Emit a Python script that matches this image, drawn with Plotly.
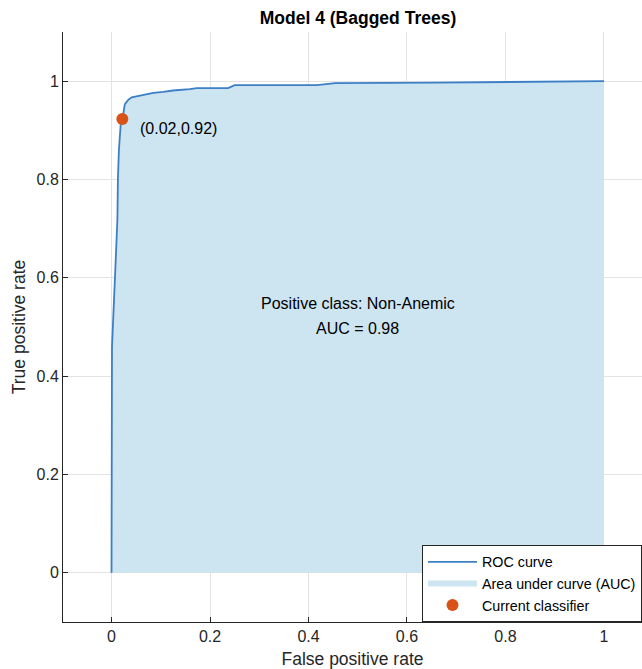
import plotly.graph_objects as go

# ROC curve data
fpr = [0, 0.0005, 0.001, 0.007, 0.009, 0.012, 0.013, 0.015, 0.019, 0.0225, 0.027,
       0.029, 0.034, 0.041, 0.054, 0.085, 0.105, 0.125, 0.159, 0.173, 0.237,
       0.250, 0.417, 0.454, 0.66, 1.0]
tpr = [0, 0.45, 0.46, 0.60, 0.66, 0.72, 0.80, 0.86, 0.917, 0.925, 0.953,
       0.956, 0.962, 0.967, 0.970, 0.976, 0.978, 0.981, 0.984, 0.986, 0.986,
       0.992, 0.992, 0.996, 0.997, 1.0]

current_fpr = [0.022]
current_tpr = [0.923]
current_label = "(0.02,0.92)"

title_text = "Model 4 (Bagged Trees)"
info_lines = ["Positive class: Non-Anemic", "AUC = 0.98"]
tick_vals = [0, 0.2, 0.4, 0.6, 0.8, 1]
tick_text = ["0", "0.2", "0.4", "0.6", "0.8", "1"]

FONT = "Liberation Sans, Arial, Helvetica, sans-serif"
TXT = "#262626"

W, H = 642, 669

fig = go.Figure()
fig.add_trace(go.Scatter(x=fpr, y=tpr, mode="none", fill="tozeroy",
                         fillcolor="#cde4f1", name="Area under curve (AUC)",
                         legendrank=2))
fig.add_trace(go.Scatter(x=fpr, y=tpr, mode="lines", name="ROC curve",
                         line=dict(color="#3d7fc6", width=1.8), legendrank=1))
fig.add_trace(go.Scatter(x=current_fpr, y=current_tpr, mode="markers",
                         name="Current classifier", legendrank=3,
                         marker=dict(color="#d95319", size=12)))

fig.add_annotation(x=0.053, y=0.903, text=current_label,
                   showarrow=False, xanchor="left", yanchor="middle",
                   font=dict(family=FONT, size=16, color="black"))
fig.add_annotation(x=0.5, y=0.547, text=info_lines[0],
                   showarrow=False, xanchor="center", yanchor="middle",
                   font=dict(family=FONT, size=16, color="black"))
fig.add_annotation(x=0.5, y=0.497, text=info_lines[1],
                   showarrow=False, xanchor="center", yanchor="middle",
                   font=dict(family=FONT, size=16, color="black"))

axis_common = dict(showgrid=True, gridcolor="#e3e3e3", gridwidth=1,
                   zeroline=False, showline=True, linecolor=TXT, linewidth=1,
                   ticks="inside", ticklen=5, tickcolor=TXT,
                   tickvals=tick_vals, ticktext=tick_text,
                   tickfont=dict(family=FONT, size=16, color=TXT),
                   mirror=False)

fig.update_layout(
    width=W, height=H,
    margin=dict(l=63, r=0, t=32, b=47),
    plot_bgcolor="white", paper_bgcolor="white",
    font=dict(family=FONT, size=16, color=TXT),
    title=dict(text="<b>" + title_text + "</b>", x=358 / W, xref="container",
               y=1 - 18 / H, yref="container", xanchor="center",
               yanchor="middle", font=dict(family=FONT, size=17.5, color="black")),
    xaxis=dict(range=[-0.0985, 1.0772], title=dict(text="False positive rate",
               font=dict(family=FONT, size=17.5, color=TXT), standoff=13),
               **axis_common),
    yaxis=dict(range=[-0.1, 1.1], title=dict(text="True positive rate",
               font=dict(family=FONT, size=17.5, color=TXT), standoff=6),
               **axis_common),
    legend=dict(x=1, y=0, xanchor="right", yanchor="bottom",
                bgcolor="white", bordercolor=TXT, borderwidth=1,
                font=dict(family=FONT, size=14.3, color="black"),
                tracegroupgap=0, itemwidth=49),
    showlegend=True,
)
fig.write_html(
    "out.html",
    config={"displayModeBar": False},
    post_script="document.body.style.margin='0';"
                "document.body.style.overflow='hidden';",
)
